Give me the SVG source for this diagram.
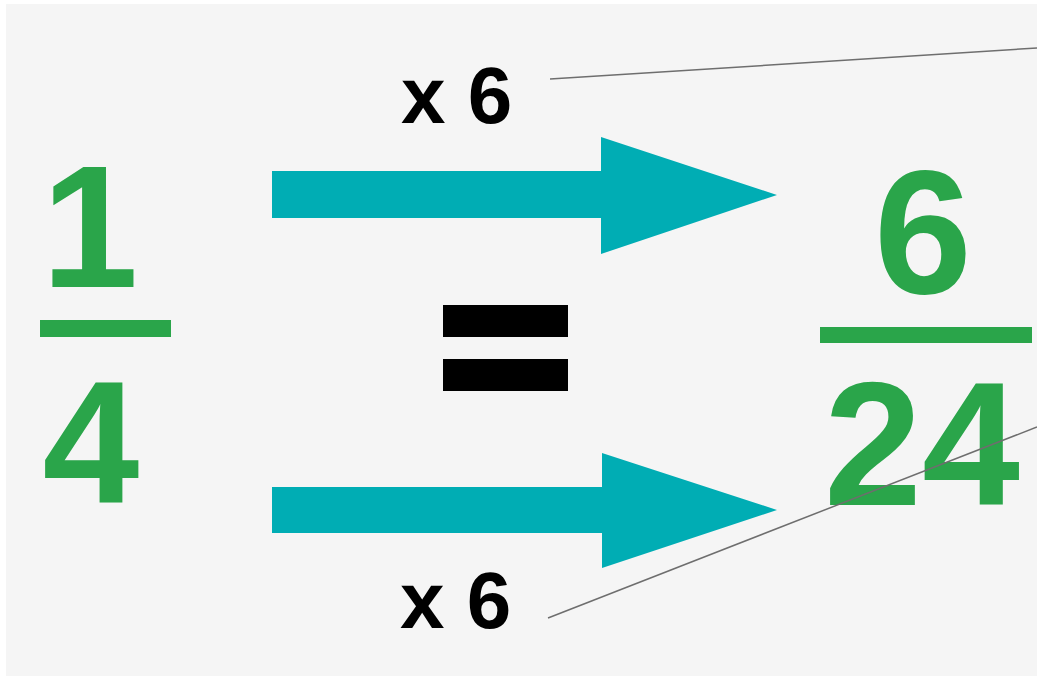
<svg xmlns="http://www.w3.org/2000/svg" width="1037" height="681" viewBox="0 0 1037 681">
<style>
.num{font-family:"Liberation Sans",Arial,sans-serif;font-weight:bold;fill:#2aa54a;text-anchor:middle}
.lbl{font-family:"Liberation Sans",Arial,sans-serif;font-weight:bold;fill:#000;font-size:80px}
.bar{fill:#2aa54a}
.arrow{fill:#00adb4}
.conn{stroke:#6e6e6e;stroke-width:1.5;fill:none}
</style>
<rect width="1037" height="681" fill="#ffffff"/>
<rect x="6" y="4" width="1031" height="672" fill="#f5f5f5"/>
<g id="frac-left">
<text class="num" x="90" y="287" font-size="174">1</text>
<rect class="bar" x="40" y="320" width="131" height="17"/>
<text class="num" x="91" y="502" font-size="174">4</text>
</g>
<g id="equals">
<rect x="443" y="305" width="125" height="32" fill="#000"/>
<rect x="443" y="359" width="125" height="32" fill="#000"/>
</g>
<g id="frac-right">
<text class="num" x="923" y="293" font-size="176">6</text>
<rect class="bar" x="820" y="327" width="212" height="16"/>
<text class="num" x="922" y="505" font-size="176">24</text>
</g>
<g id="arrow-top">
<polygon class="arrow" points="272,171 601,171 601,137 777,195 601,254 601,218 272,218"/>
</g>
<g id="arrow-bottom">
<polygon class="arrow" points="272,487 602,487 602,453 777,510 602,568 602,533 272,533"/>
</g>
<g id="label-top">
<text class="lbl" x="401" y="123">x 6</text>
</g>
<g id="label-bottom">
<text class="lbl" x="400" y="628">x 6</text>
</g>
<g id="connectors">
<line class="conn" x1="550" y1="79" x2="1037" y2="48"/>
<line class="conn" x1="548" y1="618" x2="1037" y2="427"/>
</g>
</svg>
